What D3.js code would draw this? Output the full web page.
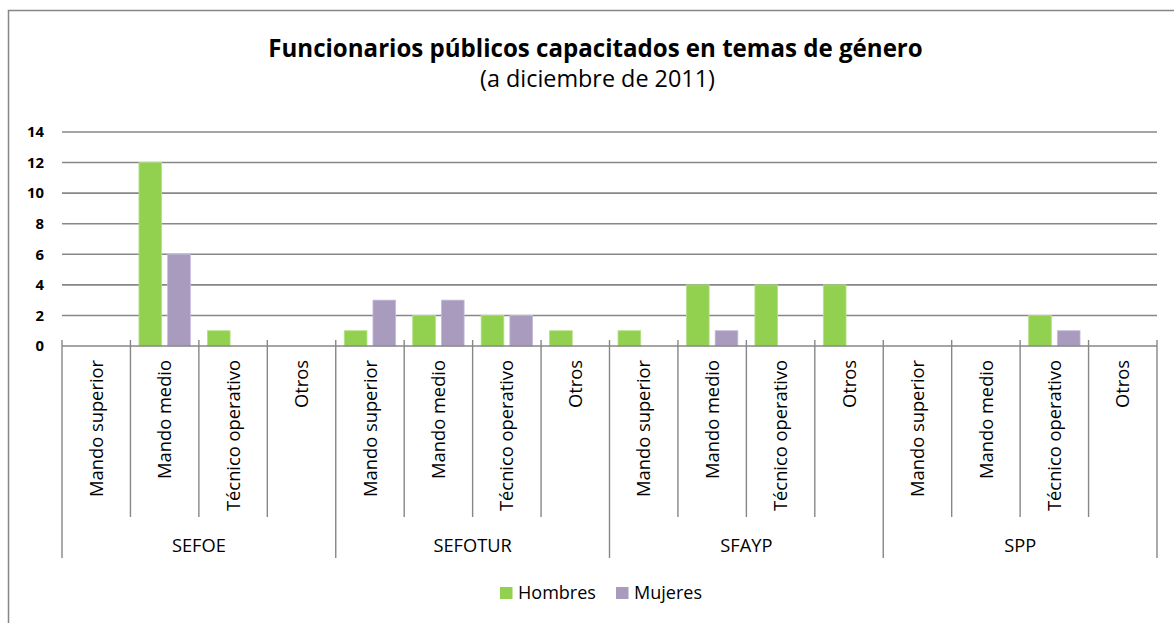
<!DOCTYPE html>
<html><head><meta charset="utf-8">
<script src="https://cdn.jsdelivr.net/npm/d3@7"></script>
<style>
body{margin:0;background:#fff;}
text{font-family:"Open Sans",Lato,sans-serif;fill:#000;}
</style></head>
<body><svg id="c" width="1174" height="623"></svg>
<script>
const title = "Funcionarios públicos capacitados en temas de género";
const subtitle = "(a diciembre de 2011)";
const groups = ["SEFOE","SEFOTUR","SFAYP","SPP"];
const levels = ["Mando superior","Mando medio","Técnico operativo","Otros"];
const seriesNames = ["Hombres","Mujeres"];
const hombres = [0,12,1,0, 1,2,2,1, 1,4,4,4, 0,0,2,0];
const mujeres = [0,6,0,0, 3,3,2,0, 0,1,0,0, 0,0,1,0];
const yTicks = [0,2,4,6,8,10,12,14];
const colors = ["#92D050","#A89BBE"];

const svg = d3.select("#c");
function fitSize(str, weight, target){
  const t = svg.append("text").style("font-size","100px").style("font-weight",weight).text(str);
  const w = t.node().getComputedTextLength(); t.remove();
  return 100*target/w;
}
const fsTitle = fitSize(title,"bold",655);
const fsSub = fitSize(subtitle,"normal",235);
const fsCat = fitSize("Mando superior","normal",137);
const fsGroup = fitSize("SEFOE","normal",54);
const fsLeg = fitSize("Hombres","normal",78);
const fsY = fitSize("14","bold",17);

svg.append("rect").attr("x",8.5).attr("y",10.5).attr("width",1200).attr("height",700)
  .attr("fill","none").attr("stroke","#868686").attr("stroke-width",1.5);

const L=62, R=1157, T=132, B=346;
const cats = [];
groups.forEach((g,gi)=>levels.forEach((l,li)=>cats.push({g,l,key:g+"|"+l,i:gi*4+li})));
const x = d3.scaleBand().domain(cats.map(c=>c.key)).range([L,R]).padding(0);
const xs = d3.scaleBand().domain(seriesNames).range([0,x.bandwidth()]).paddingInner(0.209).paddingOuter(0.297);
const y = d3.scaleLinear().domain([0,14]).range([B,T]);

svg.append("g").selectAll("line").data(yTicks.filter(d=>d>0)).join("line")
  .attr("x1",L).attr("x2",R).attr("y1",d=>y(d)).attr("y2",d=>y(d))
  .attr("stroke","#878787").attr("stroke-width",1.6);

svg.append("g").selectAll("text").data(yTicks).join("text")
  .attr("x",44).attr("y",d=>y(d)).attr("dy","0.36em").attr("text-anchor","end")
  .style("font-weight","bold").style("font-size",fsY+"px").text(d=>d);

const data = cats.map((c,i)=>({c, vals:[hombres[i],mujeres[i]]}));
const bg = svg.append("g").selectAll("g").data(data).join("g")
  .attr("transform",d=>`translate(${x(d.c.key)},0)`);
bg.selectAll("rect").data(d=>d.vals.map((v,k)=>({v,k})).filter(e=>e.v>0)).join("rect")
  .attr("x",d=>xs(seriesNames[d.k])).attr("width",xs.bandwidth())
  .attr("y",d=>y(d.v)).attr("height",d=>y(0)-y(d.v))
  .attr("fill",d=>colors[d.k]).attr("stroke",d=>d.k===0?"#b5e08a":"#c4badb").attr("stroke-width",0.8);

svg.append("line").attr("x1",L).attr("x2",R).attr("y1",B).attr("y2",B)
  .attr("stroke","#878787").attr("stroke-width",1.6);

const sep = d3.range(17).map(i=> i===16 ? R : x(cats[i].key));
svg.append("g").selectAll("line").data(sep).join("line")
  .attr("x1",d=>d).attr("x2",d=>d).attr("y1",B-6)
  .attr("y2",(d,i)=> i%4===0 ? 558 : 517)
  .attr("stroke","#878787").attr("stroke-width",1.4);

svg.append("g").selectAll("text").data(cats).join("text")
  .attr("transform",c=>`translate(${x(c.key)+x.bandwidth()/2},360) rotate(-90)`)
  .attr("text-anchor","end").attr("dy","0.36em").style("font-size",fsCat+"px").text(c=>c.l);

svg.append("g").selectAll("text").data(groups).join("text")
  .attr("x",(g,i)=>(sep[i*4]+sep[i*4+4])/2).attr("y",545).attr("dy","0.36em")
  .attr("text-anchor","middle").style("font-size",fsGroup+"px").text(g=>g);

svg.append("text").attr("x",595.5).attr("y",57).attr("text-anchor","middle")
  .style("font-weight","bold").style("font-size",fsTitle+"px").text(title);
svg.append("text").attr("x",597.5).attr("y",87).attr("text-anchor","middle")
  .style("font-size",fsSub+"px").text(subtitle);

const leg = svg.append("g");
const lx = [500,616];
seriesNames.forEach((s,i)=>{
  leg.append("rect").attr("x",lx[i]).attr("y",587).attr("width",12.5).attr("height",12).attr("fill",colors[i]);
  leg.append("text").attr("x",lx[i]+18).attr("y",593).attr("dy","0.36em").style("font-size",fsLeg+"px").text(s);
});
</script></body></html>
